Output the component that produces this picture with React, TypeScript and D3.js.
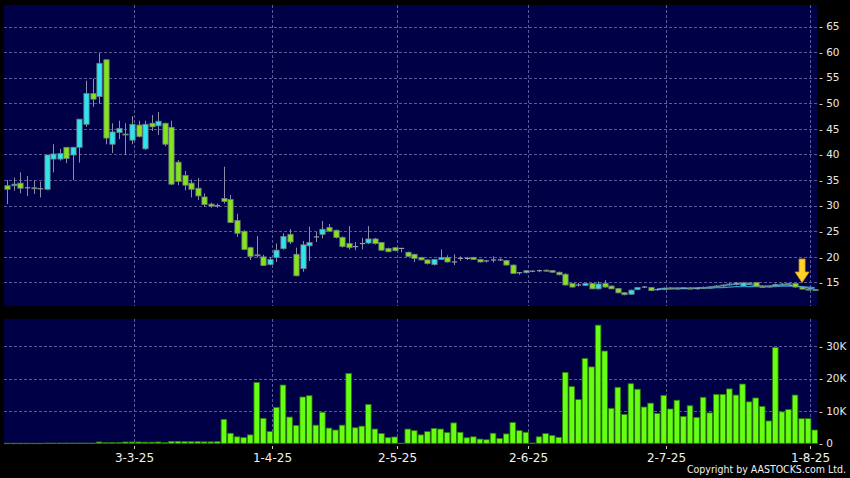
import { useEffect, useRef } from 'react';
import * as d3 from 'd3';

// daily candles, index 0 = 3 Feb 2025 (HK trading days)
const opens = [
  33.9, 33.9, 34.4, 33.5, 33.5, 33.3, 33.2, 39.1, 39.1, 41.4, 39.9, 41.4, 45.9, 51.9, 51.3, 58.5, 42.0, 44.3, 44.0, 42.8,
  45.75, 41.1, 46.1, 45.6, 46.1, 45.3, 38.5, 35.9, 34.4, 33.4, 31.7, 30.3, 30.0, 31.4, 31.2, 27.1, 25.0, 21.8, 20.4, 20.0,
  18.5, 19.9, 21.6, 24.4, 20.5, 17.7, 22.15, 23.9, 24.4, 25.75, 25.2, 23.8, 22.6, 22.0, 22.6, 22.7, 23.5, 22.8, 21.65, 21.8,
  21.65, 20.9, 20.5, 19.9, 19.4, 18.5, 19.5, 19.9, 19.0, 19.7, 19.7, 19.9, 19.5, 19.2, 19.4, 19.4, 19.3, 18.4, 16.9, 16.9,
  17.2, 17.3, 17.4, 17.3, 17.0, 16.6, 14.8, 14.5, 14.4, 14.8, 13.75, 14.8, 14.3, 13.8, 13.0, 12.7, 13.6, 14.1, 14.0, 13.6,
  13.6, 13.9, 13.8, 13.9, 13.9, 13.8, 13.8, 14.0, 14.1, 14.3, 14.5, 14.6, 14.3, 14.9, 15.0, 14.2, 14.1, 14.3, 14.6, 14.7,
  14.8, 14.1, 13.7, 13.6,
];
const highs = [
  35.0, 35.5, 36.5, 35.8, 35.0, 34.7, 39.9, 42.0, 41.1, 41.4, 41.5, 46.9, 54.4, 54.8, 59.8, 58.6, 46.1, 46.6, 46.1, 47.5,
  46.6, 46.6, 47.7, 48.3, 46.2, 46.6, 38.9, 36.8, 35.1, 35.4, 32.4, 30.6, 30.4, 37.6, 32.1, 28.4, 25.2, 22.0, 24.05, 20.4,
  20.0, 22.6, 24.6, 25.4, 21.8, 23.1, 25.9, 24.9, 27.0, 26.4, 25.3, 24.0, 26.0, 22.9, 23.7, 26.0, 23.7, 22.9, 21.8, 21.9,
  21.65, 21.0, 20.6, 20.0, 19.5, 19.6, 21.45, 20.3, 20.5, 20.1, 20.0, 20.0, 19.6, 19.4, 20.1, 19.7, 19.4, 18.5, 17.0, 17.4,
  17.3, 17.5, 17.5, 17.4, 17.1, 16.8, 14.9, 14.9, 14.9, 14.9, 15.2, 15.45, 14.4, 13.9, 13.1, 13.6, 14.1, 14.3, 14.1, 13.8,
  14.0, 14.1, 14.0, 14.0, 14.1, 14.0, 14.2, 14.3, 14.5, 14.6, 14.9, 15.1, 15.1, 15.0, 15.1, 14.4, 14.4, 14.8, 14.9, 14.9,
  14.9, 14.2, 13.9, 13.7,
];
const lows = [
  30.3, 32.9, 32.4, 31.9, 32.3, 31.6, 33.2, 36.5, 38.8, 38.3, 35.0, 38.4, 45.4, 49.3, 49.9, 42.0, 40.3, 43.0, 39.9, 42.0,
  43.3, 40.9, 44.6, 43.8, 41.6, 34.0, 34.0, 33.0, 31.6, 31.1, 29.8, 29.6, 29.6, 30.4, 26.6, 23.9, 21.3, 19.4, 19.9, 18.2,
  18.3, 19.0, 21.4, 22.5, 16.2, 17.1, 19.2, 22.9, 23.6, 24.9, 23.6, 21.8, 21.45, 21.3, 21.45, 22.5, 22.4, 21.2, 20.9, 21.1,
  20.9, 20.0, 19.0, 19.3, 18.5, 18.3, 19.4, 18.9, 18.4, 19.2, 19.4, 19.4, 18.9, 18.9, 18.9, 19.2, 18.3, 16.7, 16.5, 16.8,
  17.0, 17.0, 17.1, 16.9, 16.4, 14.4, 14.0, 14.2, 14.3, 13.7, 13.6, 14.0, 13.7, 12.9, 12.5, 12.6, 13.5, 13.9, 13.3, 13.4,
  13.5, 13.7, 13.6, 13.7, 13.7, 13.6, 13.7, 13.8, 14.0, 14.1, 14.3, 14.4, 14.2, 14.5, 14.1, 13.9, 14.0, 14.2, 14.4, 14.5,
  14.0, 13.6, 13.5, 13.4,
];
const closes = [
  33.2, 34.2, 33.4, 33.5, 33.3, 33.3, 39.9, 40.1, 40.2, 39.2, 41.4, 46.9, 51.9, 50.8, 57.8, 43.2, 44.4, 45.1, 43.8, 45.9,
  43.5, 45.9, 45.4, 46.5, 42.0, 34.2, 34.7, 34.0, 33.2, 31.9, 30.2, 29.9, 30.0, 30.8, 26.7, 24.6, 21.45, 20.1, 20.2, 18.3,
  19.5, 21.3, 24.0, 22.9, 16.3, 22.35, 22.8, 23.9, 25.4, 25.0, 23.8, 22.0, 21.8, 22.0, 22.6, 23.5, 22.6, 21.3, 21.0, 21.2,
  21.65, 20.1, 19.7, 19.4, 18.7, 19.5, 19.9, 19.0, 19.0, 19.7, 19.7, 19.5, 19.0, 19.2, 19.4, 19.4, 18.4, 16.75, 16.9, 17.3,
  17.2, 17.3, 17.2, 17.0, 16.5, 14.5, 14.1, 14.5, 14.8, 13.75, 14.7, 14.1, 13.75, 12.97, 12.6, 13.5, 14.0, 14.1, 13.4, 13.6,
  13.9, 13.8, 13.9, 13.9, 13.8, 13.8, 14.0, 14.1, 14.3, 14.5, 14.7, 14.9, 14.9, 14.7, 14.2, 14.1, 14.3, 14.6, 14.7, 14.8,
  14.1, 13.7, 13.6, 13.5,
];
// volume, thousands of shares
const volumes = [
  0.02, 0.02, 0.02, 0.02, 0.02, 0.02, 0.06, 0.06, 0.06, 0.06, 0.06, 0.06, 0.06, 0.06, 0.4, 0.2, 0.2, 0.2, 0.4, 0.4,
  0.4, 0.35, 0.35, 0.4, 0.2, 0.6, 0.6, 0.5, 0.5, 0.5, 0.45, 0.45, 0.5, 7.4, 3.1, 2.0, 1.75, 2.6, 18.8, 7.7,
  3.6, 11.1, 18.0, 8.1, 5.5, 14.3, 14.7, 5.6, 9.6, 4.7, 4.1, 5.6, 21.6, 4.8, 5.3, 12.0, 4.4, 3.0, 1.75, 1.95,
  0.05, 4.4, 3.9, 2.6, 3.6, 4.6, 4.4, 3.3, 6.3, 3.4, 1.7, 2.0, 1.3, 1.1, 3.1, 1.5, 2.9, 6.4, 3.9, 3.4,
  0.1, 2.0, 3.0, 2.4, 1.85, 21.9, 17.5, 13.5, 26.2, 23.6, 36.5, 28.5, 10.8, 17.3, 8.9, 18.4, 16.7, 11.2, 12.4, 9.2,
  14.8, 10.6, 13.3, 8.3, 11.6, 8.0, 14.2, 9.4, 15.1, 15.1, 16.8, 14.9, 18.3, 12.8, 14.0, 11.4, 6.9, 29.6, 9.7, 10.4,
  14.9, 7.6, 7.6, 4.1,
];

// two average lines drawn over the last weeks
const maStart = 99;
const maFast = [13.7, 13.8, 13.9, 13.9, 13.9, 13.9, 13.9, 14.0, 14.1, 14.2, 14.4, 14.6, 14.7, 14.7, 14.6, 14.4, 14.3, 14.3, 14.4, 14.5, 14.5, 14.3, 14.1, 13.9, 13.7];
const maSlow = [13.7, 13.7, 13.8, 13.8, 13.8, 13.8, 13.9, 13.9, 13.9, 14.0, 14.0, 14.1, 14.2, 14.2, 14.2, 14.2, 14.2, 14.2, 14.2, 14.3, 14.3, 14.3, 14.2, 14.1, 14.0];

const xTickLabels = ['3-3-25', '1-4-25', '2-5-25', '2-6-25', '2-7-25', '1-8-25'];
const xTickIndex = [20, 41, 60, 80, 101, 123];
const priceTicks = [15, 20, 25, 30, 35, 40, 45, 50, 55, 60, 65];
const volTicks = [0, 10, 20, 30];
const arrowIndex = 121;

const W = 850;
const H = 478;
const FONT = 'DejaVu Sans, Verdana, sans-serif';

const App = () => {
  const svgRef = useRef<SVGSVGElement>(null);

  useEffect(() => {
    if (!svgRef.current) return;
    const svg = d3.select(svgRef.current);
    svg.selectAll('*').remove();

    const left = 4, right = 817;
    const main = { top: 5, bottom: 306 };
    const vol = { top: 319, bottom: 444 };

    svg.append('rect').attr('width', W).attr('height', H).attr('fill', '#000');
    svg.append('rect').attr('x', left).attr('y', main.top).attr('width', right - left)
      .attr('height', main.bottom - main.top).attr('fill', '#000046');
    svg.append('rect').attr('x', left).attr('y', vol.top).attr('width', right - left)
      .attr('height', vol.bottom - vol.top).attr('fill', '#000046');

    const idx = d3.range(closes.length);
    const x = d3.scaleBand<number>().domain(idx).range([4, 818]).padding(0);
    const bw = x.bandwidth();
    const cx = (i: number) => (x(i) ?? 0) + bw / 2;

    const y = d3.scaleLinear().domain([10.4, 69.2]).range([main.bottom, main.top]);
    const yv = d3.scaleLinear().domain([0, 38.4]).range([443.3, vol.top]);

    const gridColor = '#5a5a96';

    // horizontal grid + right labels (price)
    const pg = svg.append('g');
    pg.selectAll('line').data(priceTicks).enter().append('line')
      .attr('x1', left).attr('x2', right)
      .attr('y1', d => Math.round(y(d)) + 0.5).attr('y2', d => Math.round(y(d)) + 0.5)
      .attr('stroke', gridColor).attr('stroke-dasharray', '3,2').attr('stroke-width', 1);
    pg.selectAll('text').data(priceTicks).enter().append('text')
      .attr('x', 819).attr('y', d => y(d) + 3.8)
      .attr('fill', '#e8e8e8').attr('font-size', 10.5).attr('font-family', FONT)
      .text(d => `- ${d}`);

    const vg = svg.append('g');
    vg.selectAll('line').data(volTicks.filter(d => d > 0)).enter().append('line')
      .attr('x1', left).attr('x2', right)
      .attr('y1', d => Math.round(yv(d)) + 0.5).attr('y2', d => Math.round(yv(d)) + 0.5)
      .attr('stroke', gridColor).attr('stroke-dasharray', '3,2').attr('stroke-width', 1);
    vg.selectAll('text').data(volTicks).enter().append('text')
      .attr('x', 819).attr('y', d => yv(d) + 3.8)
      .attr('fill', '#e8e8e8').attr('font-size', 10.5).attr('font-family', FONT)
      .text(d => (d === 0 ? '- 0' : `- ${d}K`));

    // vertical grid at month starts
    const xg = svg.append('g');
    xTickIndex.forEach((ti, k) => {
      const gx = Math.round(x(ti) ?? 0) - 0.5;
      [main, vol].forEach(p => {
        xg.append('line').attr('x1', gx).attr('x2', gx).attr('y1', p.top).attr('y2', p.bottom)
          .attr('stroke', gridColor).attr('stroke-dasharray', '3,2');
      });
      xg.append('line').attr('x1', gx).attr('x2', gx).attr('y1', 446).attr('y2', 449)
        .attr('stroke', '#cccccc');
      xg.append('text').attr('x', gx).attr('y', 462).attr('text-anchor', 'middle')
        .attr('fill', '#f0f0f0').attr('font-size', 12).attr('font-family', FONT)
        .text(xTickLabels[k]);
    });

    // volume bars
    svg.append('g').selectAll('rect').data(idx).enter().append('rect')
      .attr('x', i => (x(i) ?? 0) + 0.5)
      .attr('width', bw - 1)
      .attr('y', i => yv(volumes[i]))
      .attr('height', i => Math.max(0.5, yv(0) - yv(volumes[i])))
      .attr('fill', '#66ff14').attr('stroke', '#2f7a08').attr('stroke-width', 0.8);

    // average lines (under the candles)
    const line = d3.line<number>().x((_, k) => cx(maStart + k)).y(d => y(d));
    svg.append('path').attr('d', line(maSlow) ?? '').attr('fill', 'none')
      .attr('stroke', '#2a9ad8').attr('stroke-width', 1.2);
    svg.append('path').attr('d', line(maFast) ?? '').attr('fill', 'none')
      .attr('stroke', '#5fc6ee').attr('stroke-width', 1);

    // candles
    const cg = svg.append('g');
    const body = bw * 0.8;
    idx.forEach(i => {
      const o = opens[i], c = closes[i], h = highs[i], l = lows[i];
      const xc = Math.round(cx(i)) + 0.5;
      cg.append('line').attr('x1', xc).attr('x2', xc).attr('y1', y(h)).attr('y2', y(l))
        .attr('stroke', '#8c8ca8').attr('stroke-width', 1);
      if (Math.abs(o - c) < 0.06) {
        cg.append('line').attr('x1', xc - body / 2).attr('x2', xc + body / 2)
          .attr('y1', y(c)).attr('y2', y(c)).attr('stroke', '#9a9aa8').attr('stroke-width', 1.2);
      } else {
        const top = y(Math.max(o, c)), bot = y(Math.min(o, c));
        cg.append('rect').attr('x', xc - body / 2).attr('width', body)
          .attr('y', top).attr('height', Math.max(1, bot - top))
          .attr('fill', c > o ? '#2ee4f2' : '#84e21e')
          .attr('stroke', '#6e7e7a').attr('stroke-width', 0.8);
      }
    });

    // marker arrow pointing to latest session
    const ax = cx(arrowIndex) + 0.5;
    const arrow = d3.path();
    arrow.moveTo(ax - 3, 259);
    arrow.lineTo(ax + 3, 259);
    arrow.lineTo(ax + 3, 272);
    arrow.lineTo(ax + 7, 272);
    arrow.lineTo(ax, 282.5);
    arrow.lineTo(ax - 7, 272);
    arrow.lineTo(ax - 3, 272);
    arrow.closePath();
    svg.append('path').attr('d', arrow.toString()).attr('fill', '#ffd22e')
      .attr('stroke', '#d99a10').attr('stroke-width', 0.8);

    svg.append('text').attr('x', 846).attr('y', 472.5).attr('text-anchor', 'end')
      .attr('fill', '#f0f0f0').attr('font-size', 10.5).attr('font-family', FONT)
      .attr('textLength', 159).attr('lengthAdjust', 'spacingAndGlyphs')
      .text('Copyright by AASTOCKS.com Ltd.');
  }, []);

  return (
    <svg ref={svgRef} width={W} height={H}
      style={{ position: 'absolute', left: 0, top: 0, display: 'block' }} />
  );
};

export default App;
